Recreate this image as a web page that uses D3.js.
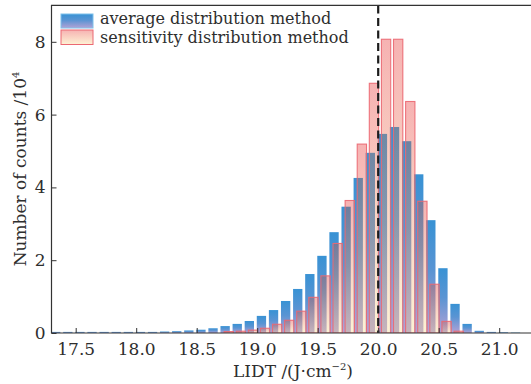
<!DOCTYPE html>
<html>
<head>
<meta charset="utf-8">
<script src="https://cdn.jsdelivr.net/npm/d3@7"></script>
<style>
  html, body { margin: 0; padding: 0; background: #fff; }
  svg { display: block; }
  text { font-family: "DejaVu Serif", serif; fill: #2e2e2e; }
</style>
</head>
<body>
<svg id="chart" width="531" height="384"></svg>
<script>
// ---- data (counts in units of 10^4) ----
const binCenters = [17.35, 17.45, 17.55, 17.65, 17.75, 17.85, 17.95, 18.05, 18.15, 18.25,
                    18.35, 18.45, 18.55, 18.65, 18.75, 18.85, 18.95, 19.05, 19.15, 19.25,
                    19.35, 19.45, 19.55, 19.65, 19.75, 19.85, 19.95, 20.05, 20.15, 20.25,
                    20.35, 20.45, 20.55, 20.65, 20.75, 20.85, 20.95, 21.05, 21.15];
const averageCounts = [0.03, 0.03, 0.03, 0.03, 0.03, 0.03, 0.03, 0.03, 0.03, 0.04,
                       0.05, 0.07, 0.09, 0.13, 0.19, 0.25, 0.33, 0.47, 0.63, 0.88,
                       1.21, 1.62, 2.12, 2.77, 3.47, 4.26, 4.95, 5.47, 5.66, 5.27,
                       4.36, 3.10, 1.78, 0.80, 0.25, 0.06, 0.03, 0.02, 0.01];
const sensitivityCounts = [0, 0, 0, 0, 0, 0, 0, 0, 0, 0,
                           0, 0, 0, 0, 0.04, 0.05, 0.08, 0.13, 0.24, 0.35,
                           0.60, 0.98, 1.57, 2.46, 3.64, 5.19, 6.86, 8.07, 8.07, 6.36,
                           3.62, 1.34, 0.32, 0.05, 0, 0, 0, 0, 0];
const xTicks = [17.5, 18.0, 18.5, 19.0, 19.5, 20.0, 20.5, 21.0];
const yTicks = [0, 2, 4, 6, 8];
const legendLabels = ["average distribution method", "sensitivity distribution method"];
const refLine = 20.0;

// ---- layout ----
const svg = d3.select("#chart");
const mLeft = 51.5, mRight = 531, mTop = 5.4, mBottom = 333;
const x = d3.scaleLinear().domain([17.3, 21.3]).range([mLeft, mLeft + 4.0 * 121]);
const y = d3.scaleLinear().domain([0, 9]).range([mBottom, mTop]);
const barW = 0.077, shift = 0.015;

const defs = svg.append("defs");
const gb = defs.append("linearGradient").attr("id", "gBlue")
  .attr("x1", 0).attr("y1", 0).attr("x2", 0).attr("y2", 1);
gb.append("stop").attr("offset", "0%").attr("stop-color", "#3892d4");
gb.append("stop").attr("offset", "45%").attr("stop-color", "#5a94d3");
gb.append("stop").attr("offset", "100%").attr("stop-color", "#b3a2d6");
const gr = defs.append("linearGradient").attr("id", "gRed")
  .attr("x1", 0).attr("y1", 0).attr("x2", 0).attr("y2", 1);
gr.append("stop").attr("offset", "0%").attr("stop-color", "#f5a5a5");
gr.append("stop").attr("offset", "100%").attr("stop-color", "#fdf0cd");
defs.append("clipPath").attr("id", "plotClip").append("rect")
  .attr("x", mLeft).attr("y", mTop).attr("width", mRight - mLeft).attr("height", mBottom - mTop);

const data = binCenters.map((c, i) => ({ c, a: averageCounts[i], s: sensitivityCounts[i] }));
const plot = svg.append("g").attr("clip-path", "url(#plotClip)");

plot.selectAll("rect.avg").data(data.filter(d => d.a > 0)).join("rect")
  .attr("class", "avg")
  .attr("x", d => x(d.c - shift - barW / 2))
  .attr("width", d => x(d.c - shift + barW / 2) - x(d.c - shift - barW / 2))
  .attr("y", d => y(d.a))
  .attr("height", d => y(0) - y(d.a))
  .attr("fill", "url(#gBlue)");

const senData = data.filter(d => d.s > 0);
const senX = d => x(d.c + shift - barW / 2);
const senW = d => x(d.c + shift + barW / 2) - x(d.c + shift - barW / 2);
// multiply layer (darkens where the bars overlap)
plot.selectAll("rect.senM").data(senData).join("rect")
  .attr("class", "senM")
  .attr("x", senX).attr("width", senW)
  .attr("y", d => y(d.s)).attr("height", d => y(0) - y(d.s))
  .attr("fill", "url(#gRed)")
  .attr("opacity", 0.79)
  .style("mix-blend-mode", "multiply");
// normal layer with outline
plot.selectAll("rect.sen").data(senData).join("rect")
  .attr("class", "sen")
  .attr("x", senX).attr("width", senW)
  .attr("y", d => y(d.s)).attr("height", d => y(0) - y(d.s))
  .attr("fill", "url(#gRed)")
  .attr("fill-opacity", 0.29)
  .attr("stroke", "#eb6872")
  .attr("stroke-opacity", 0.9)
  .attr("stroke-width", 1.1);

// dashed reference line
svg.append("line")
  .attr("x1", x(refLine)).attr("x2", x(refLine))
  .attr("y1", mTop).attr("y2", mBottom)
  .attr("stroke", "#1c1c1c").attr("stroke-width", 2.2)
  .attr("stroke-dasharray", "8,4.5");

// axes
const xAxis = svg.append("g").attr("transform", `translate(0,${mBottom})`)
  .call(d3.axisBottom(x).tickValues(xTicks).tickFormat(d3.format(".1f"))
    .tickSizeInner(-5).tickSizeOuter(0).tickPadding(10));
const yAxis = svg.append("g").attr("transform", `translate(${mLeft},0)`)
  .call(d3.axisLeft(y).tickValues(yTicks).tickFormat(d3.format("d"))
    .tickSizeInner(-5).tickSizeOuter(0).tickPadding(6));
[xAxis, yAxis].forEach(g => {
  g.select(".domain").remove();
  g.selectAll(".tick line").attr("stroke", "#333").attr("stroke-width", 1);
  g.selectAll(".tick text").style("font-family", "DejaVu Serif").style("font-size", "17px")
    .attr("fill", "#2e2e2e");
});

// frame lines
svg.append("path")
  .attr("d", `M${mRight},${mTop}H${mLeft}V${mBottom}H${mRight}`)
  .attr("fill", "none").attr("stroke", "#333").attr("stroke-width", 1.2);

// axis titles
const xt = svg.append("text").attr("x", 293).attr("y", 377)
  .attr("text-anchor", "middle").style("font-size", "17px");
xt.append("tspan").text("LIDT /(J\u00B7cm");
xt.append("tspan").attr("dy", -7).style("font-size", "10px").text("\u22122");
xt.append("tspan").attr("dy", 7).text(")");

const yt = svg.append("text").attr("transform", "translate(26,169) rotate(-90)")
  .attr("text-anchor", "middle").style("font-size", "17px");
yt.append("tspan").text("Number of counts /10");
yt.append("tspan").attr("dy", -7).style("font-size", "10px").text("4");

// legend
const lg = svg.append("g");
lg.append("rect").attr("x", 61).attr("y", 14).attr("width", 32).attr("height", 14)
  .attr("fill", "url(#gBlue)").attr("stroke", "#7fc0ea").attr("stroke-width", 1);
lg.append("rect").attr("x", 61).attr("y", 30).attr("width", 32).attr("height", 14.5)
  .attr("fill", "url(#gRed)").attr("fill-opacity", 0.85)
  .attr("stroke", "#eb6872").attr("stroke-width", 1);
lg.selectAll("text.lab").data(legendLabels).join("text")
  .attr("class", "lab")
  .attr("x", 100).attr("y", (d, i) => 24 + i * 18.7)
  .style("font-size", "16px").text(d => d);
</script>
</body>
</html>
